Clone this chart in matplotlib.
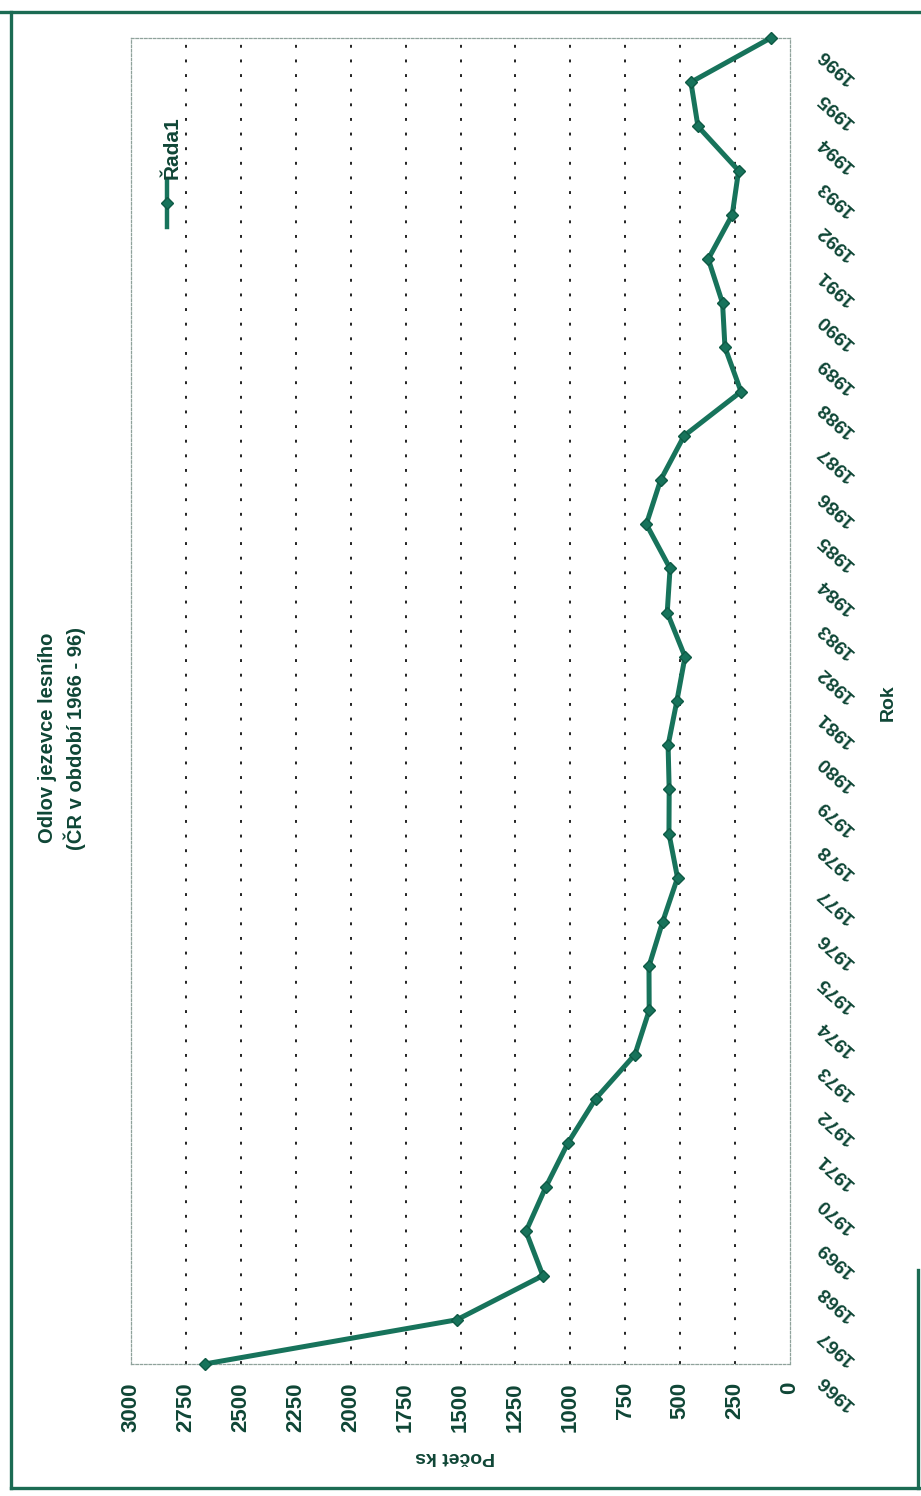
import matplotlib
matplotlib.use('Agg')
import matplotlib.pyplot as plt
from matplotlib import font_manager
from matplotlib.lines import Line2D
from matplotlib.transforms import offset_copy

# Odlov jezevce lesního v ČR, 1966 - 1996
roky = [1966, 1967, 1968, 1969, 1970, 1971, 1972, 1973, 1974, 1975, 1976,
        1977, 1978, 1979, 1980, 1981, 1982, 1983, 1984, 1985, 1986, 1987,
        1988, 1989, 1990, 1991, 1992, 1993, 1994, 1995, 1996]
pocet = [2665, 1517, 1125, 1202, 1112, 1011, 885, 706, 641, 642, 580,
         512, 551, 550, 555, 515, 478, 559, 546, 654, 589, 482,
         223, 296, 307, 372, 263, 234, 419, 451, 88]
hodnoty = [0, 250, 500, 750, 1000, 1250, 1500, 1750, 2000, 2250, 2500, 2750, 3000]

W, H = 921, 1496
zelena = '#17735b'
text_barva = '#0f4636'
ramecek = '#1b6b53'

plt.rcParams['font.family'] = ['Liberation Sans', 'DejaVu Sans']
plt.rcParams['font.weight'] = 'bold'

nazvy = {f.name for f in font_manager.fontManager.ttflist}
uzke = 'Liberation Sans Narrow' if 'Liberation Sans Narrow' in nazvy else 'Liberation Sans'

fig = plt.figure(figsize=(W / 100, H / 100), dpi=100)
ax = fig.add_axes([131 / W, 1 - 1364 / H, 659 / W, 1326 / H])

ax.plot(pocet, roky, color=zelena, lw=3.6, marker='D', ms=6.5,
        mfc=zelena, mec='#0e5a45', mew=1, clip_on=False, zorder=3)

ax.set_xlim(3000, 0)
ax.set_ylim(1966, 1996)

# osa hodnot dole, popisky otočené
ax.set_xticks(hodnoty)
ax.set_xticklabels([str(h) for h in hodnoty], rotation=90, fontsize=16,
                   color=text_barva, fontweight='bold')
ax.tick_params(axis='x', length=0, pad=13)
# mřížka jen uvnitř (bez 0 a 3000)
ax.xaxis.remove_overlapping_locs = False
ax.set_xticks(hodnoty[1:-1], minor=True)
ax.tick_params(axis='x', which='minor', length=0)
ax.grid(which='minor', axis='x', color='#111111', lw=1.3, linestyle=(0, (1.6, 6.5)))

# osa roků vpravo, popisky šikmo
ax.set_yticks(roky)
ax.tick_params(axis='y', length=0, labelleft=False, labelright=False)
tr = offset_copy(ax.get_yaxis_transform(), fig=fig, x=30, y=-13, units='dots')
for r in roky:
    ax.text(1.0, r, str(r), transform=tr, rotation=138, rotation_mode='anchor',
            ha='right', va='center', fontsize=14, fontweight='bold',
            color=text_barva, clip_on=False)

for s in ax.spines.values():
    s.set_linestyle((0, (2, 1.5)))
    s.set_color('#8fa29b')
    s.set_linewidth(0.9)

# titulek a popisy os
fig.text(62 / W, 1 - 738 / H, 'Odlov jezevce lesního\n(ČR v období 1966 - 96)',
         rotation=90, ha='center', va='center', fontsize=14.5, family=[uzke, 'DejaVu Sans'],
         fontweight='bold', color=text_barva, linespacing=1.3, multialignment='center')
fig.text(888 / W, 1 - 703 / H, 'Rok', rotation=90, ha='center', va='center',
         fontsize=14, fontweight='bold', color=text_barva)
fig.text(455 / W, 1 - 1457 / H, 'Počet ks', rotation=180, ha='center', va='center',
         fontsize=14, family=[uzke, 'DejaVu Sans'], fontweight='bold', color=text_barva)

# legenda (otočená)
fig.add_artist(Line2D([167 / W, 167 / W], [1 - 180 / H, 1 - 227 / H],
                      color=zelena, lw=3.2))
fig.add_artist(Line2D([167 / W], [1 - 203 / H], color=zelena, marker='D', ms=6.5,
                      mec='#0e5a45', lw=0))
fig.text(172 / W, 1 - 148 / H, 'Řada1', rotation=90, ha='center', va='center',
         fontsize=15, family=[uzke, 'DejaVu Sans'], fontweight='bold', color=text_barva)

# rámeček stránky
for xs, ys in [([0, W], [12, 12]), ([11, 11], [12, 1488]), ([11, W], [1488, 1488]),
               ([918, 918], [1270, 1488])]:
    fig.add_artist(Line2D([x / W for x in xs], [1 - y / H for y in ys],
                          color=ramecek, lw=2.4))

fig.savefig('out.png', dpi=100)
